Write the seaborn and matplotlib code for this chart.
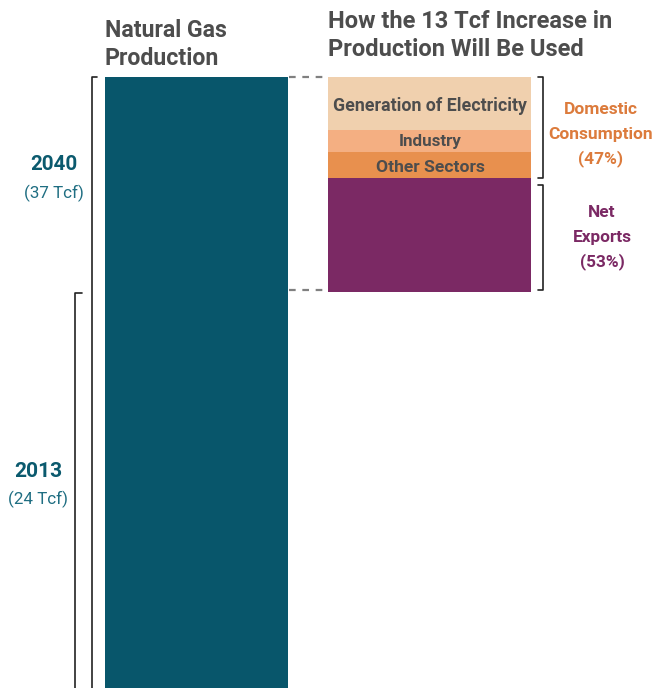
import matplotlib
matplotlib.use("Agg")
import matplotlib.pyplot as plt
import seaborn as sns
import pandas as pd

# ---- data ----
years = ["2013", "2040"]
production = [24, 37]            # Tcf
increase = 13                    # Tcf
use_categories = ["Generation of Electricity", "Industry", "Other Sectors", "Net Exports"]
use_values = [3.2, 1.35, 1.55, 6.9]   # Tcf, sums to 13
group_lines = [["Domestic", "Consumption", "(47%)"], ["Net", "Exports", "(53%)"]]
title_left = ["Natural Gas", "Production"]
title_right = ["How the 13 Tcf Increase in", "Production Will Be Used"]

teal = "#08566B"
use_colors = ["#F0D0AE", "#F4AF82", "#E8904E", "#7B2964"]
dom_color = "#DC7B3C"
exp_color = "#7B2964"
gray = "#4D4D4D"

sns.set_theme(style="white")
plt.rcParams["font.family"] = ["Roboto", "DejaVu Sans"]

W, H = 655, 688
fig = plt.figure(figsize=(W / 100, H / 100), dpi=100)
renderer = fig.canvas.get_renderer()
top_px = 77
ax = fig.add_axes([0, 0, 1, 1 - top_px / H])
ax.axis("off")

# x in category units: 0 -> px 196.5, 1 -> px 429.5
def px(p):
    return (p - 196.5) / 233.0

order = ["Production", "Use"]

# production bar: 2013 part + increase
df_prod = pd.DataFrame({"cat": ["Production"], "v": [production[0]]})
sns.barplot(data=df_prod, x="cat", y="v", order=order, color=teal, width=183 / 233,
            saturation=1, ax=ax, linewidth=0, err_kws={"linewidth": 0})
df_inc = pd.DataFrame({"cat": ["Production"], "v": [production[1] - production[0]]})
sns.barplot(data=df_inc, x="cat", y="v", order=order, color=teal, width=183 / 233,
            saturation=1, ax=ax, linewidth=0, bottom=production[0], err_kws={"linewidth": 0})

# use bar stacked from top (37) downward
bottoms = []
cum = production[1]
for v in use_values:
    cum -= v
    bottoms.append(cum)
for name, v, b, c in zip(use_categories, use_values, bottoms, use_colors):
    d = pd.DataFrame({"cat": ["Use"], "v": [v]})
    sns.barplot(data=d, x="cat", y="v", order=order, color=c, width=203 / 233,
                saturation=1, ax=ax, linewidth=0, bottom=b, err_kws={"linewidth": 0})

ax.set_xlim(px(0), px(W))
ax.set_ylim(0, production[1])


def fit_lines(lines, x, baselines, target_w, ha="center", **kw):
    """Place lines (figure pixel coords) with a font size that fits target width."""
    fs0 = 20
    widths = []
    for s in lines:
        t = fig.text(0, 0, s, fontsize=fs0, **kw)
        widths.append(t.get_window_extent(renderer).width)
        t.remove()
    fs = fs0 * target_w / max(widths)
    for s, b in zip(lines, baselines):
        fig.text(x / W, 1 - b / H, s, fontsize=fs, ha=ha, va="baseline", **kw)


# titles
fit_lines(title_left, 105, [37, 65], 122, ha="left", fontweight="bold", color=gray)
fit_lines(title_right, 328, [28, 56], 284, ha="left", fontweight="bold", color=gray)

# labels inside use bar
fit_lines([use_categories[0]], 430, [111], 193, fontweight="bold", color=gray)
fit_lines([use_categories[1]], 430, [146], 63, fontweight="bold", color=gray)
fit_lines([use_categories[2]], 430, [172], 108, fontweight="bold", color=gray)

# group labels
fit_lines(group_lines[0], 601, [114, 139, 163], 104, fontweight="bold", color=dom_color)
fit_lines(group_lines[1], 602, [217, 242, 266], 104 * 59 / 104, fontweight="bold",
          color=exp_color)

# year labels
fit_lines(["2040"], 54, [170], 47, fontweight="bold", color="#0B5A6E")
fit_lines(["(37 Tcf)"], 54, [198], 60, color="#1F6E82")
fit_lines(["2013"], 38, [477], 48, fontweight="bold", color="#0B5A6E")
fit_lines(["(24 Tcf)"], 38, [504], 60, color="#1F6E82")

# dashed connectors
for yv in [production[1], production[0] + 0.1]:
    ax.plot([px(289), px(328)], [yv, yv], ls=(0, (3, 3)), color="#808080", lw=1.6,
            clip_on=False)

# left brackets
ax.plot([px(97), px(92), px(92)], [production[1], production[1], 0], color="#222222",
        lw=1.2, clip_on=False)
ax.plot([px(82), px(75), px(75)], [production[0] - 0.05, production[0] - 0.05, 0],
        color="#222222", lw=1.2, clip_on=False)

# right brackets
dom_top = production[1]
dom_bot = bottoms[2]
exp_top = bottoms[2] - 0.45
exp_bot = production[0] + 0.1
for t, b in [(dom_top, dom_bot), (exp_top, exp_bot)]:
    ax.plot([px(538), px(543), px(543), px(538)], [t, t, b, b], color="#222222", lw=1.2,
            clip_on=False)

fig.savefig("out.png", dpi=100)
